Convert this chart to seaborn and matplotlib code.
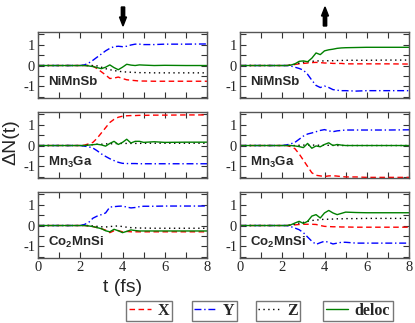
import numpy as np
import pandas as pd
import matplotlib
matplotlib.use("Agg")
import matplotlib.pyplot as plt
from matplotlib.ticker import MultipleLocator
from matplotlib.lines import Line2D
import seaborn as sns

# ---------------- data ----------------
t = [0, 2.0, 2.2, 2.4, 2.6, 2.8, 3.0, 3.2, 3.4, 3.6, 3.8, 4.0, 4.2, 4.4, 4.6, 4.8, 5.0, 5.5, 6.0, 7.0, 8.0]

materials = ["NiMnSb", "Mn$_3$Ga", "Co$_2$MnSi"]
series = ["X", "Y", "Z", "deloc"]

# spin down (left column)
nimnsb_dn_X = [0, 0, 0, 0, -0.03, -0.15, -0.3, -0.45, -0.62, -0.6, -0.55, -0.62, -0.68, -0.7, -0.72, -0.74, -0.74, -0.75, -0.75, -0.75, -0.75]
nimnsb_dn_Y = [0, 0, 0.03, 0.12, 0.25, 0.4, 0.55, 0.7, 0.82, 0.9, 0.92, 0.9, 0.92, 0.98, 1.02, 1.02, 1.0, 1.0, 1.02, 1.02, 1.03]
nimnsb_dn_Z = [0, 0, 0, 0, 0, -0.02, -0.08, -0.15, -0.2, -0.24, -0.27, -0.3, -0.31, -0.32, -0.33, -0.34, -0.34, -0.35, -0.35, -0.35, -0.35]
nimnsb_dn_D = [0, 0, 0, -0.02, -0.05, -0.1, -0.15, -0.08, 0.03, -0.1, -0.2, -0.08, 0.06, 0.02, 0.0, 0.03, 0.02, 0.0, 0.01, 0.0, 0.0]

mn3ga_dn_X = [0, 0, 0.02, 0.08, 0.15, 0.35, 0.6, 0.85, 1.1, 1.25, 1.35, 1.4, 1.42, 1.43, 1.43, 1.44, 1.44, 1.45, 1.45, 1.46, 1.46]
mn3ga_dn_Y = [0, 0, -0.03, -0.06, -0.12, -0.25, -0.4, -0.52, -0.63, -0.72, -0.8, -0.85, -0.86, -0.86, -0.86, -0.87, -0.87, -0.87, -0.87, -0.87, -0.87]
mn3ga_dn_Z = [0, 0, 0, 0.02, 0.04, 0.06, 0.06, 0.08, 0.08, 0.09, 0.1, 0.1, 0.1, 0.1, 0.1, 0.1, 0.11, 0.11, 0.11, 0.11, 0.11]
mn3ga_dn_D = [0, 0, 0, 0.02, 0.04, 0.06, 0.03, -0.03, 0.1, 0.2, 0.05, 0.15, 0.3, 0.12, 0.2, 0.2, 0.15, 0.18, 0.15, 0.16, 0.16]

co2mnsi_dn_X = [0, 0, 0, -0.02, -0.05, -0.1, -0.15, -0.22, -0.34, -0.25, -0.24, -0.3, -0.28, -0.3, -0.3, -0.3, -0.3, -0.3, -0.3, -0.3, -0.3]
co2mnsi_dn_Y = [0, 0, 0.05, 0.15, 0.35, 0.45, 0.52, 0.6, 0.88, 0.9, 0.92, 0.93, 0.88, 0.84, 0.86, 0.9, 0.92, 0.92, 0.93, 0.93, 0.93]
co2mnsi_dn_Z = [0, 0, 0, 0, -0.02, -0.04, -0.06, -0.07, -0.05, -0.03, -0.02, -0.05, -0.08, -0.1, -0.11, -0.12, -0.12, -0.13, -0.13, -0.13, -0.13]
co2mnsi_dn_D = [0, 0, 0, -0.02, -0.05, -0.1, -0.15, -0.25, -0.3, -0.18, -0.25, -0.34, -0.28, -0.21, -0.24, -0.26, -0.26, -0.26, -0.26, -0.26, -0.26]

# spin up (right column)
nimnsb_up_X = [0, 0, 0, 0.02, 0.05, 0.08, 0.1, 0.12, 0.14, 0.15, 0.14, 0.12, 0.12, 0.1, 0.1, 0.1, 0.08, 0.08, 0.08, 0.08, 0.07]
nimnsb_up_Y = [0, 0, 0, -0.02, -0.08, -0.14, -0.22, -0.42, -0.7, -0.95, -1.05, -0.98, -1.05, -1.15, -1.18, -1.2, -1.2, -1.22, -1.2, -1.2, -1.2]
nimnsb_up_Z = [0, 0, 0, 0.02, 0.06, 0.12, 0.16, 0.18, 0.2, 0.22, 0.22, 0.22, 0.23, 0.23, 0.24, 0.24, 0.25, 0.25, 0.25, 0.26, 0.26]
nimnsb_up_D = [0, 0, 0, 0.02, 0.08, 0.2, 0.22, 0.18, 0.35, 0.6, 0.52, 0.7, 0.75, 0.78, 0.82, 0.84, 0.85, 0.86, 0.87, 0.87, 0.87]

mn3ga_up_X = [0, 0, 0, -0.05, -0.15, -0.4, -0.7, -1.0, -1.3, -1.42, -1.45, -1.48, -1.45, -1.44, -1.46, -1.48, -1.5, -1.5, -1.52, -1.52, -1.52]
mn3ga_up_Y = [0, 0, 0.03, 0.08, 0.15, 0.3, 0.45, 0.55, 0.6, 0.66, 0.72, 0.76, 0.7, 0.66, 0.7, 0.72, 0.74, 0.74, 0.74, 0.74, 0.75]
mn3ga_up_Z = [0, 0, 0, 0, 0, 0.01, 0.02, 0.02, 0.02, 0.02, 0.01, 0.01, 0.01, 0.01, 0, 0, 0, 0, 0, 0, 0]
mn3ga_up_D = [0, 0, 0, 0, -0.02, -0.05, -0.1, 0.1, -0.13, -0.02, -0.06, 0.05, 0.13, 0.0, 0.05, 0.02, 0.0, 0.0, 0.0, 0.0, 0.0]

co2mnsi_up_X = [0, 0, 0, 0.01, 0.03, 0.05, 0.06, 0.06, 0.06, 0.05, 0.0, -0.04, -0.05, -0.06, -0.06, -0.07, -0.07, -0.08, -0.08, -0.08, -0.08]
co2mnsi_up_Y = [0, 0, 0, -0.05, -0.12, -0.2, -0.34, -0.55, -0.75, -0.9, -0.82, -0.75, -0.8, -0.88, -0.84, -0.8, -0.8, -0.84, -0.84, -0.84, -0.84]
co2mnsi_up_Z = [0, 0, 0, 0.02, 0.06, 0.12, 0.15, 0.2, 0.24, 0.26, 0.28, 0.3, 0.3, 0.31, 0.32, 0.32, 0.33, 0.33, 0.34, 0.34, 0.34]
co2mnsi_up_D = [0, 0, 0, 0.03, 0.12, 0.2, 0.1, 0.2, 0.45, 0.52, 0.36, 0.6, 0.72, 0.6, 0.52, 0.58, 0.64, 0.62, 0.61, 0.61, 0.61]

panels = {
    (0, 0): [nimnsb_dn_X, nimnsb_dn_Y, nimnsb_dn_Z, nimnsb_dn_D],
    (1, 0): [mn3ga_dn_X, mn3ga_dn_Y, mn3ga_dn_Z, mn3ga_dn_D],
    (2, 0): [co2mnsi_dn_X, co2mnsi_dn_Y, co2mnsi_dn_Z, co2mnsi_dn_D],
    (0, 1): [nimnsb_up_X, nimnsb_up_Y, nimnsb_up_Z, nimnsb_up_D],
    (1, 1): [mn3ga_up_X, mn3ga_up_Y, mn3ga_up_Z, mn3ga_up_D],
    (2, 1): [co2mnsi_up_X, co2mnsi_up_Y, co2mnsi_up_Z, co2mnsi_up_D],
}

# ---------------- style ----------------
sns.set_style("ticks")
plt.rcParams['font.family'] = ['Liberation Serif', 'DejaVu Serif']
plt.rcParams['axes.unicode_minus'] = False
plt.rcParams['mathtext.fontset'] = 'custom'
plt.rcParams['mathtext.rm'] = 'Liberation Sans:bold'
plt.rcParams['mathtext.it'] = 'Liberation Sans:bold'
plt.rcParams['mathtext.bf'] = 'Liberation Sans:bold'

colors = {"X": "#ff0000", "Y": "#0000ff", "Z": "#000000", "deloc": "#008000"}
styles = {"X": (0, (4, 2.5)), "Y": (0, (5, 2, 1, 2)), "Z": (0, (1, 2.5)), "deloc": "-"}

W, H = 415, 323
fig = plt.figure(figsize=(W / 100, H / 100), dpi=100)

col_x = [38, 240]
col_w = 169
row_top = [32, 112, 192]
row_h = 66

for (r, c), vals in panels.items():
    ax = fig.add_axes([col_x[c] / W, 1 - (row_top[r] + row_h) / H, col_w / W, row_h / H])
    df = pd.DataFrame({"t": t * 4,
                       "v": sum(vals, []),
                       "s": sum([[s] * len(t) for s in series], [])})
    for s in series:
        sub = df[df["s"] == s]
        sns.lineplot(data=sub, x="t", y="v", ax=ax, color=colors[s],
                     linestyle=styles[s], linewidth=1.0, legend=False)
    ax.set_xlim(0, 8)
    ax.set_ylim(-1.55, 1.6)
    ax.xaxis.set_major_locator(MultipleLocator(2))
    ax.xaxis.set_minor_locator(MultipleLocator(1))
    ax.yaxis.set_major_locator(MultipleLocator(1))
    ax.yaxis.set_minor_locator(MultipleLocator(0.5))
    ax.tick_params(which='both', direction='in', top=True, right=True,
                   labelsize=10.5, pad=2, width=0.8, color='#333333',
                   labelfontfamily='Liberation Serif')
    ax.tick_params(which='major', length=4)
    ax.tick_params(which='minor', length=4)
    for sp in ax.spines.values():
        sp.set_color('#555555')
        sp.set_linewidth(1.0)
    ax.set_xlabel("")
    ax.set_ylabel("")
    if r < 2:
        ax.tick_params(axis='x', labelbottom=False)
    ax.text(0.06, 0.24, materials[r], transform=ax.transAxes,
            fontsize=9.5, fontweight='bold', family='Liberation Sans',
            va='center', ha='left')

fig.text(123 / W, 1 - 287 / H, "t (fs)", ha='center', va='center',
         fontsize=14, family='Liberation Sans')
fig.text(11 / W, 1 - 142 / H, "ΔN(t)", ha='center', va='center',
         fontsize=14, family='Liberation Sans', rotation=90)

# arrows
for xc, direction in [(123, -1), (325, 1)]:
    if direction < 0:
        y0, y1 = 7, 26
    else:
        y0, y1 = 26, 7
    fig.add_artist(matplotlib.patches.FancyArrow(
        xc / W, 1 - y0 / H, 0, -(y1 - y0) / H,
        width=2.6 / H, head_width=7 / W, head_length=9 / H,
        length_includes_head=True, color='black', transform=fig.transFigure))

# legends (four separate boxes)
leg_pos = [(128, 170), (193, 236), (258, 298), (323, 393)]
for s, (x0, x1) in zip(series, leg_pos):
    h = Line2D([], [], color=colors[s], linestyle=styles[s], linewidth=1.0)
    leg = fig.legend([h], [s], loc='center', bbox_to_anchor=((x0 + x1) / 2 / W, 1 - 311 / H),
                     frameon=True, fancybox=False, handlelength=1.4, handletextpad=0.4,
                     borderpad=0.15, borderaxespad=0,
                     prop={'family': 'Liberation Serif', 'weight': 'bold', 'size': 11.5})
    leg.get_frame().set_edgecolor('#555555')
    leg.get_frame().set_linewidth(1.0)

fig.savefig("out.png", dpi=100)
